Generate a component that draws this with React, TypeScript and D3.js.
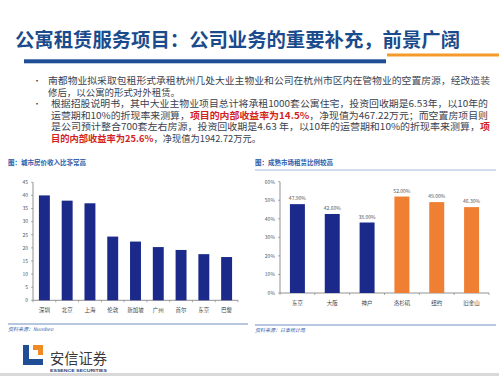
import React from "react";
import * as d3 from "d3";

const leftCities = ["深圳", "北京", "上海", "伦敦", "新加坡", "广州", "首尔", "东京", "巴黎"];
const leftValues = [40, 38, 37, 24.3, 22.4, 20.3, 19.2, 17.6, 16.5];
const leftTicks = [0, 5, 10, 15, 20, 25, 30, 35, 40, 45];

const rightCities = ["东京", "大阪", "神户", "洛杉矶", "纽约", "旧金山"];
const rightValues = [47.9, 42.6, 38.0, 52.0, 49.0, 46.3];
const rightGroups = ["jp", "jp", "jp", "us", "us", "us"];
const rightTicks = [0, 10, 20, 30, 40, 50, 60];

const FONT = "'Noto Sans CJK SC', 'Noto Sans', sans-serif";
const NAVY = "#1B2A8A";
const ORANGE = "#EE7F33";

type Seg = { t: string; red?: boolean };
const bulletLines: { segs: Seg[]; y: number; x: number; w: number; bullet?: boolean }[] = [
  { segs: [{ t: "南都物业拟采取包租形式承租杭州几处大业主物业和公司在杭州市区内在管物业的空置房源，经改造装" }], y: 84, x: 48, w: 442, bullet: true },
  { segs: [{ t: "修后，以公寓的形式对外租赁。" }], y: 95.5, x: 48, w: 132 },
  { segs: [{ t: "根据招股说明书，其中大业主物业项目总计将承租1000套公寓住宅，投资回收期是6.53年，以10年的" }], y: 107, x: 51, w: 437, bullet: true },
  { segs: [{ t: "运营期和10%的折现率来测算，" }, { t: "项目的内部收益率为14.5%", red: true }, { t: "，净现值为467.22万元；而空置房项目则" }], y: 118.5, x: 51, w: 437 },
  { segs: [{ t: "是公司预计整合700套左右房源，投资回收期是4.63  年，以10年的运营期和10%的折现率来测算，" }, { t: "项", red: true }], y: 130, x: 51, w: 439 },
  { segs: [{ t: "目的内部收益率为25.6%", red: true }, { t: "，净现值为1942.72万元。" }], y: 141.5, x: 51, w: 210 },
];

function LeftChart() {
  const x = d3.scaleBand<string>().domain(leftCities).range([33, 238]).paddingInner(0.52).paddingOuter(0.26);
  const y = d3.scaleLinear().domain([0, 45]).range([300.3, 182.3]);
  const step = x.step();
  return (
    <g>
      <text x={8} y={165} fontSize={6.5} fontWeight="bold" fill="#2B5CA8" fontFamily={FONT}>图：城市房价收入比非常高</text>
      <line x1={33} x2={33} y1={182.3} y2={300.3} stroke="#777" strokeWidth={0.8} />
      <line x1={33} x2={238} y1={300.3} y2={300.3} stroke="#777" strokeWidth={0.8} />
      {leftTicks.map((t) => (
        <g key={t}>
          <line x1={31} x2={33} y1={y(t)} y2={y(t)} stroke="#777" strokeWidth={0.6} />
          <text x={28} y={y(t) + 1.8} fontSize={5} fill="#555" textAnchor="end" fontFamily={FONT}>{t}</text>
        </g>
      ))}
      {leftCities.map((c, i) => (
        <line key={"tk" + i} x1={x(c)! - step * 0.26} x2={x(c)! - step * 0.26} y1={300.3} y2={302.3} stroke="#777" strokeWidth={0.6} />
      ))}
      <line x1={238} x2={238} y1={300.3} y2={302.3} stroke="#777" strokeWidth={0.6} />
      {leftCities.map((c, i) => (
        <rect key={c} x={x(c)} y={y(leftValues[i])} width={x.bandwidth()} height={y(0) - y(leftValues[i])} fill={NAVY} />
      ))}
      {leftCities.map((c) => (
        <text key={"l" + c} x={x(c)! + x.bandwidth() / 2} y={312} fontSize={5.5} fill="#444" textAnchor="middle" fontFamily={FONT}>{c}</text>
      ))}
      <line x1={8} x2={248} y1={324} y2={324} stroke="#6F8FC0" strokeWidth={1} />
      <text x={8} y={331} fontSize={5} fill="#2B5CA8" fontStyle="italic" fontFamily={FONT}>资料来源：Numbeo</text>
    </g>
  );
}

function RightChart() {
  const keys = rightCities.map((c, i) => c + i);
  const x = d3.scaleBand<string>().domain(keys).range([280, 489]).paddingInner(0.57).paddingOuter(0.285);
  const y = d3.scaleLinear().domain([0, 60]).range([293, 181.7]);
  const step = x.step();
  return (
    <g>
      <text x={255} y={165} fontSize={6.5} fontWeight="bold" fill="#2B5CA8" fontFamily={FONT}>图：成熟市场租赁比例较高</text>
      <line x1={255} x2={496} y1={170} y2={170} stroke="#8EA6CF" strokeWidth={0.8} />
      <line x1={280} x2={280} y1={181.7} y2={293} stroke="#777" strokeWidth={0.8} />
      <line x1={280} x2={489} y1={293} y2={293} stroke="#777" strokeWidth={0.8} />
      {rightTicks.map((t) => (
        <g key={t}>
          <line x1={278} x2={280} y1={y(t)} y2={y(t)} stroke="#777" strokeWidth={0.6} />
          <text x={275} y={y(t) + 1.8} fontSize={5} fill="#555" textAnchor="end" fontFamily={FONT}>{t + "%"}</text>
        </g>
      ))}
      {keys.map((k, i) => (
        <line key={"tk" + i} x1={x(k)! - step * 0.285} x2={x(k)! - step * 0.285} y1={293} y2={295} stroke="#777" strokeWidth={0.6} />
      ))}
      <line x1={489} x2={489} y1={293} y2={295} stroke="#777" strokeWidth={0.6} />
      {keys.map((k, i) => (
        <rect key={k} x={x(k)} y={y(rightValues[i])} width={x.bandwidth()} height={y(0) - y(rightValues[i])} fill={rightGroups[i] === "jp" ? NAVY : ORANGE} />
      ))}
      {keys.map((k, i) => (
        <text key={"v" + k} x={x(k)! + x.bandwidth() / 2} y={y(rightValues[i]) - 4} fontSize={5} fill="#555" textAnchor="middle" fontFamily={FONT}>{rightValues[i].toFixed(2) + "%"}</text>
      ))}
      {keys.map((k, i) => (
        <text key={"l" + k} x={x(k)! + x.bandwidth() / 2} y={305} fontSize={5.5} fill="#444" textAnchor="middle" fontFamily={FONT}>{rightCities[i]}</text>
      ))}
      <line x1={255} x2={496} y1={325} y2={325} stroke="#6F8FC0" strokeWidth={1} />
      <text x={255} y={332} fontSize={5} fill="#2B5CA8" fontStyle="italic" fontFamily={FONT}>资料来源：日本统计局</text>
    </g>
  );
}

export default function App() {
  return (
    <svg width={499} height={376} style={{ position: "absolute", left: 0, top: 0, background: "#fff" }} fontFamily={FONT}>
      <rect x={0} y={0} width={499} height={376} fill="#fff" />
      <text x={15} y={46.5} fontSize={19.3} fontWeight="bold" fill="#1A4B8C" fontFamily={FONT} textLength={445} lengthAdjust="spacingAndGlyphs">公寓租赁服务项目：公司业务的重要补充，前景广阔</text>
      <rect x={24} y={59.3} width={362} height={4} fill="#1F4E96" />
      <rect x={387} y={53.5} width={112} height={3} fill="#F39A2B" />
      {bulletLines.map((ln, i) => (
        <g key={i}>
          {ln.bullet && <text x={33} y={ln.y} fontSize={8} fill="#333">•</text>}
          <text x={ln.x} y={ln.y} fontSize={9.4} fill="#3A3F4F" fontFamily={FONT} textLength={ln.w} lengthAdjust="spacingAndGlyphs">
            {ln.segs.map((s, j) => (
              <tspan key={j} fill={s.red ? "#D21F1F" : "#3A3F4F"} fontWeight={s.red ? "bold" : "normal"}>{s.t}</tspan>
            ))}
          </text>
        </g>
      ))}
      <LeftChart />
      <RightChart />
      <g>
        <path d="M23,345 L29,345 L29,359 L43,359 L43,365 L23,365 Z" fill="#1F4E96" />
        <path d="M33,345 L43,345 L43,355 L38,355 L38,350 L33,350 Z" fill="#F08A24" />
        <text x={50} y={364} fontSize={14.5} fill="#3A3A3A" fontFamily={FONT} textLength={57} lengthAdjust="spacingAndGlyphs">安信证券</text>
        <text x={50} y={371.5} fontSize={4.2} fontWeight="bold" fill="#1F3F7A" fontFamily="'Liberation Sans', sans-serif" textLength={57} lengthAdjust="spacingAndGlyphs">ESSENCE SECURITIES</text>
      </g>
      <rect x={0} y={373} width={499} height={3} fill="#D9D9D9" />
    </svg>
  );
}
